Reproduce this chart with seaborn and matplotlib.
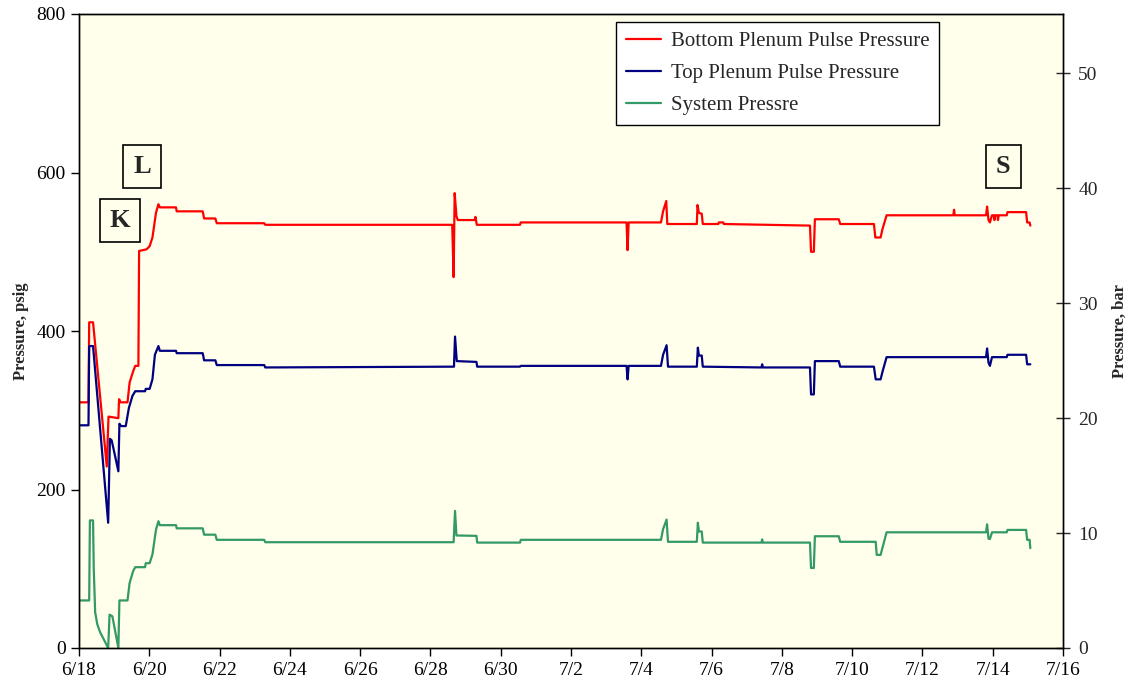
import numpy as np
import pandas as pd
import matplotlib
matplotlib.use("Agg")
import matplotlib.pyplot as plt
import seaborn as sns

# Time axis: days elapsed since 6/18 00:00
bottom_day = [0, 0.27, 0.29, 0.40, 0.79, 0.84, 1.12, 1.14, 1.18, 1.38, 1.44, 1.54, 1.60, 1.69,
              1.71, 1.92, 2.01, 2.09, 2.19, 2.26, 2.30, 2.76, 2.78, 3.52, 3.56, 3.88, 3.92, 5.27,
              5.30, 10.62, 10.66, 10.69, 10.74, 10.78, 11.26, 11.28, 11.32, 12.55, 12.57, 15.58,
              15.61, 15.64, 16.56, 16.62, 16.71, 16.74, 17.58, 17.60, 17.64, 17.72, 17.75, 18.19,
              18.21, 18.33, 18.35, 20.80, 20.83, 20.91, 20.94, 21.62, 21.66, 22.62, 22.66, 22.81,
              22.86, 22.98, 24.88, 24.90, 24.92, 25.81, 25.84, 25.88, 25.92, 25.98, 26.03, 26.05,
              26.07, 26.13, 26.15, 26.17, 26.40, 26.42, 26.95, 26.98, 27.05, 27.07]
bottom_psig = [310, 310, 411, 411, 229, 292, 290, 314, 310, 310, 335, 349, 356, 356,
               501, 503, 507, 518, 549, 560, 556, 556, 551, 551, 542, 542, 536, 536,
               534, 534, 468, 574, 545, 540, 540, 544, 534, 534, 537, 537,
               502, 537, 537, 551, 564, 535, 535, 559, 549, 548, 535, 535,
               537, 537, 535, 533, 500, 500, 541, 541, 535, 535, 518, 518,
               528, 546, 546, 553, 546, 546, 557, 540, 537, 546, 546, 540,
               546, 546, 540, 546, 546, 550, 550, 537, 537, 533]

top_day = [0, 0.27, 0.29, 0.40, 0.83, 0.88, 0.93, 1.12, 1.15, 1.20, 1.33, 1.42, 1.52, 1.60,
           1.88, 1.90, 2.01, 2.09, 2.16, 2.26, 2.30, 2.76, 2.78, 3.52, 3.56, 3.88, 3.92, 5.27,
           5.30, 10.67, 10.70, 10.75, 11.31, 11.33, 12.55, 12.57, 15.58, 15.61, 15.64, 16.56,
           16.62, 16.72, 16.76, 17.58, 17.61, 17.64, 17.72, 17.75, 19.42, 19.44, 19.46, 20.80,
           20.83, 20.91, 20.94, 21.62, 21.66, 22.62, 22.67, 22.81, 22.86, 22.98, 25.81, 25.84,
           25.88, 25.92, 25.98, 26.40, 26.42, 26.95, 26.98, 27.07]
top_psig = [281, 281, 381, 381, 158, 264, 262, 223, 283, 280, 280, 303, 318, 324,
            324, 327, 327, 339, 370, 381, 375, 375, 372, 372, 363, 363, 357, 357,
            354, 355, 393, 362, 361, 355, 355, 356, 356, 339, 356, 356,
            370, 382, 355, 355, 379, 369, 369, 355, 354, 358, 354, 354,
            320, 320, 362, 362, 355, 355, 339, 339, 348, 367, 367, 378,
            360, 356, 367, 367, 370, 370, 358, 358]

system_day = [0, 0.29, 0.31, 0.40, 0.42, 0.46, 0.52, 0.60, 0.83, 0.87, 0.95, 1.12, 1.15, 1.38,
              1.44, 1.54, 1.60, 1.88, 1.90, 2.01, 2.09, 2.19, 2.26, 2.30, 2.76, 2.78, 3.52, 3.56,
              3.88, 3.92, 5.27, 5.30, 10.66, 10.70, 10.74, 11.31, 11.33, 12.55, 12.57, 16.56,
              16.62, 16.72, 16.76, 17.58, 17.61, 17.64, 17.72, 17.75, 19.42, 19.44, 19.46, 20.80,
              20.83, 20.91, 20.94, 21.62, 21.66, 22.67, 22.70, 22.81, 22.86, 22.98, 25.81, 25.84,
              25.88, 25.92, 25.98, 26.40, 26.42, 26.95, 26.98, 27.05, 27.07]
system_psig = [60, 60, 161, 161, 100, 45, 30, 20, 0, 42, 40, 0, 60, 60,
               82, 97, 102, 102, 107, 107, 118, 149, 160, 155, 155, 151, 151, 143,
               143, 136.5, 136.5, 133.5, 133.5, 173, 142, 141.5, 133, 133, 136.5, 136.5,
               150, 162, 134, 134, 158, 147, 147, 133, 133, 137, 133, 133,
               101, 101, 141, 141, 134, 134, 117.5, 117.5, 126, 146, 146, 156,
               138, 137.5, 146, 146, 149, 149, 136.5, 136.5, 126]

series_names = ["Bottom Plenum Pulse Pressure", "Top Plenum Pulse Pressure", "System Pressre"]
series_colors = ["#FF0000", "#000080", "#339966"]

tick_days = list(range(0, 29, 2))
tick_labels = ["6/18", "6/20", "6/22", "6/24", "6/26", "6/28", "6/30", "7/2",
               "7/4", "7/6", "7/8", "7/10", "7/12", "7/14", "7/16"]

PSI_PER_BAR = 14.5038

frames = []
for name, d, p in zip(series_names,
                      [bottom_day, top_day, system_day],
                      [bottom_psig, top_psig, system_psig]):
    frames.append(pd.DataFrame({"day": d, "psig": p, "series": name}))
df = pd.concat(frames, ignore_index=True)

sns.set_style("ticks")
plt.rcParams["font.family"] = ["Liberation Serif", "DejaVu Serif"]

fig = plt.figure(figsize=(11.3, 6.92), dpi=100)
ax = fig.add_axes([79 / 1130, 1 - 648 / 692, (1063 - 79) / 1130, (648 - 14) / 692])
ax.set_facecolor("#FFFFEC")

sns.lineplot(data=df, x="day", y="psig", hue="series", hue_order=series_names,
             palette=series_colors, estimator=None, sort=False, linewidth=1.6, ax=ax)

ax.set_xlim(0, 28)
ax.set_ylim(0, 800)
ax.set_xticks(tick_days)
ax.set_xticklabels(tick_labels)
ax.set_yticks([0, 200, 400, 600, 800])
ax.tick_params(axis="both", direction="out", length=6, width=1, labelsize=14, colors="black")
ax.tick_params(axis="x", pad=4)
ax.set_xlabel("")
ax.set_ylabel("Pressure, psig", fontsize=12, fontweight="bold", labelpad=5)
for s in ax.spines.values():
    s.set_color("black")
    s.set_linewidth(1)

ax2 = ax.twinx()
ax2.set_ylim(0, 800 / PSI_PER_BAR)
ax2.set_yticks([0, 10, 20, 30, 40, 50])
ax2.tick_params(axis="y", direction="inout", length=10, width=1, labelsize=14, pad=6)
ax2.set_ylabel("Pressure, bar", fontsize=12, fontweight="bold", labelpad=10)
for s in ax2.spines.values():
    s.set_color("black")
    s.set_linewidth(1)

handles, labels = ax.get_legend_handles_labels()
leg = ax.legend(handles, labels, loc="upper left", bbox_to_anchor=(0.546, 0.987),
                borderaxespad=0, fontsize=15, frameon=True, fancybox=False,
                edgecolor="black", framealpha=1, handlelength=1.7, handletextpad=0.5,
                labelspacing=0.6, borderpad=0.45)
leg.get_frame().set_linewidth(1)

box_style = dict(boxstyle="square,pad=0.38", facecolor="none", edgecolor="black", linewidth=1.2)
for letter, dx, py in [("L", 1.79, 607), ("K", 1.17, 540), ("S", 26.3, 607)]:
    ax.text(dx, py, letter, fontsize=19, fontweight="bold", ha="center", va="center",
            bbox=box_style)

fig.savefig("out.png", dpi=100, facecolor="white")
